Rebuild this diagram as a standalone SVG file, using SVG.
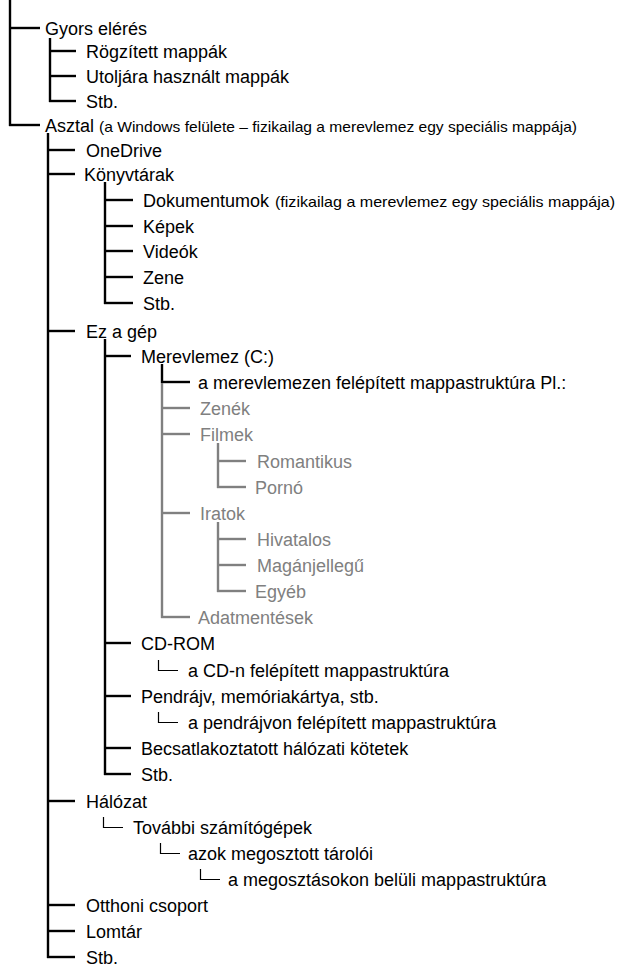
<svg xmlns="http://www.w3.org/2000/svg" width="624" height="967" viewBox="0 0 624 967">
<style>
text{font-family:"Liberation Sans",Arial,sans-serif;font-size:18px;fill:#000}
text.g{fill:#808080}
text.s{font-size:14.5px}
line{stroke:#000;stroke-width:2.4;fill:none}
line.g{stroke:#808080}
path.t{stroke:#000;stroke-width:1.2;fill:none}
</style>
<rect width="624" height="967" fill="#fff"/>
<g id="connectors">
<line x1="10" y1="0" x2="10" y2="126"/>
<line x1="9" y1="28" x2="40" y2="28"/>
<line x1="9" y1="125" x2="40" y2="125"/>
<line x1="50" y1="38" x2="50" y2="102"/>
<line x1="49" y1="51" x2="76" y2="51"/>
<line x1="49" y1="76" x2="76" y2="76"/>
<line x1="49" y1="101" x2="76" y2="101"/>
<line x1="48" y1="133" x2="48" y2="958"/>
<line x1="47" y1="150" x2="75" y2="150"/>
<line x1="47" y1="174" x2="75" y2="174"/>
<line x1="47" y1="331" x2="75" y2="331"/>
<line x1="47" y1="801" x2="75" y2="801"/>
<line x1="47" y1="905" x2="75" y2="905"/>
<line x1="47" y1="931" x2="75" y2="931"/>
<line x1="47" y1="957" x2="75" y2="957"/>
<line x1="105" y1="182" x2="105" y2="304"/>
<line x1="104" y1="200" x2="133" y2="200"/>
<line x1="104" y1="226" x2="133" y2="226"/>
<line x1="104" y1="251" x2="133" y2="251"/>
<line x1="104" y1="277" x2="133" y2="277"/>
<line x1="104" y1="303" x2="133" y2="303"/>
<line x1="105" y1="339" x2="105" y2="775"/>
<line x1="104" y1="356" x2="131" y2="356"/>
<line x1="104" y1="643" x2="131" y2="643"/>
<line x1="104" y1="696" x2="131" y2="696"/>
<line x1="104" y1="748" x2="131" y2="748"/>
<line x1="104" y1="774" x2="131" y2="774"/>
<line x1="162" y1="364" x2="162" y2="383"/>
<line x1="161" y1="382" x2="190" y2="382"/>
<line class="g" x1="162" y1="383" x2="162" y2="618"/>
<line class="g" x1="161" y1="408" x2="190" y2="408"/>
<line class="g" x1="161" y1="434" x2="190" y2="434"/>
<line class="g" x1="161" y1="513" x2="190" y2="513"/>
<line class="g" x1="161" y1="617" x2="190" y2="617"/>
<line class="g" x1="218" y1="443" x2="218" y2="488"/>
<line class="g" x1="217" y1="461" x2="246" y2="461"/>
<line class="g" x1="217" y1="487" x2="246" y2="487"/>
<line class="g" x1="218" y1="522" x2="218" y2="592"/>
<line class="g" x1="217" y1="539" x2="246" y2="539"/>
<line class="g" x1="217" y1="565" x2="246" y2="565"/>
<line class="g" x1="217" y1="591" x2="246" y2="591"/>
<path class="t" d="M158.5 660V670.5H178"/>
<path class="t" d="M158.5 712V722.5H178"/>
<path class="t" d="M103.5 817V827.5H123"/>
<path class="t" d="M160.5 843V853.5H180"/>
<path class="t" d="M200.5 869V879.5H220"/>
</g>
<g id="gyors"><text x="45" y="35">Gyors elérés</text></g>
<g id="rogzitett"><text x="86" y="58">Rögzített mappák</text></g>
<g id="utoljara"><text x="86" y="83">Utoljára használt mappák</text></g>
<g id="stb1"><text x="86" y="108">Stb.</text></g>
<g id="asztal"><text x="45" y="132">Asztal</text><text class="s" x="99" y="132" textLength="478" lengthAdjust="spacingAndGlyphs">(a Windows felülete – fizikailag a merevlemez egy speciális mappája)</text></g>
<g id="onedrive"><text x="86" y="157">OneDrive</text></g>
<g id="konyvtarak"><text x="84" y="181">Könyvtárak</text></g>
<g id="dokumentumok"><text x="143" y="207">Dokumentumok</text><text class="s" x="275" y="207" textLength="340" lengthAdjust="spacingAndGlyphs">(fizikailag a merevlemez egy speciális mappája)</text></g>
<g id="kepek"><text x="143" y="233">Képek</text></g>
<g id="videok"><text x="143" y="258">Videók</text></g>
<g id="zene"><text x="143" y="284">Zene</text></g>
<g id="stb2"><text x="143" y="310">Stb.</text></g>
<g id="ezagep"><text x="86" y="338">Ez a gép</text></g>
<g id="merevlemez"><text x="141" y="363">Merevlemez (C:)</text></g>
<g id="mappastruktura"><text x="198" y="389">a merevlemezen felépített mappastruktúra Pl.:</text></g>
<g id="zenek"><text class="g" x="200" y="415">Zenék</text></g>
<g id="filmek"><text class="g" x="200" y="441">Filmek</text></g>
<g id="romantikus"><text class="g" x="257" y="468">Romantikus</text></g>
<g id="porno"><text class="g" x="255" y="494">Pornó</text></g>
<g id="iratok"><text class="g" x="200" y="520">Iratok</text></g>
<g id="hivatalos"><text class="g" x="257" y="546">Hivatalos</text></g>
<g id="maganjellegu"><text class="g" x="257" y="572">Magánjellegű</text></g>
<g id="egyeb"><text class="g" x="255" y="598">Egyéb</text></g>
<g id="adatmentesek"><text class="g" x="198" y="624">Adatmentések</text></g>
<g id="cdrom"><text x="141" y="650">CD-ROM</text></g>
<g id="cdstruktura"><text x="188" y="677">a CD-n felépített mappastruktúra</text></g>
<g id="pendrajv"><text x="141" y="703">Pendrájv, memóriakártya, stb.</text></g>
<g id="pendstruktura"><text x="188" y="729">a pendrájvon felépített mappastruktúra</text></g>
<g id="becsatlakoztatott"><text x="141" y="755">Becsatlakoztatott hálózati kötetek</text></g>
<g id="stb3"><text x="141" y="781">Stb.</text></g>
<g id="halozat"><text x="86" y="808">Hálózat</text></g>
<g id="tovabbi"><text x="133" y="834">További számítógépek</text></g>
<g id="tarolok"><text x="188" y="860">azok megosztott tárolói</text></g>
<g id="megosztasok"><text x="228" y="886">a megosztásokon belüli mappastruktúra</text></g>
<g id="otthoni"><text x="86" y="912">Otthoni csoport</text></g>
<g id="lomtar"><text x="86" y="938">Lomtár</text></g>
<g id="stb4"><text x="86" y="964">Stb.</text></g>
</svg>
